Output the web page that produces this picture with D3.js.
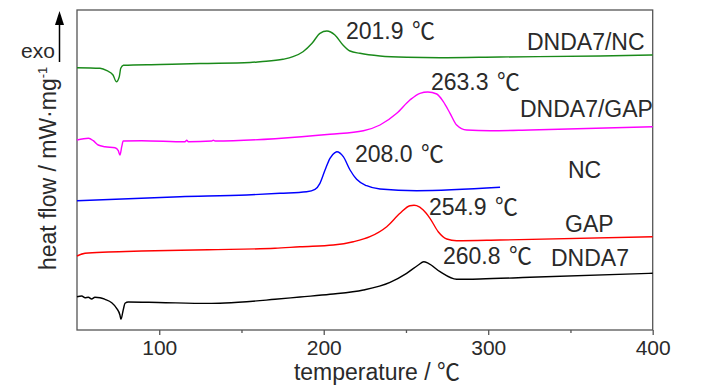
<!DOCTYPE html>
<html>
<head>
<meta charset="utf-8">
<script src="https://cdn.jsdelivr.net/npm/d3@7"></script>
<style>
  body { margin: 0; background: #fff; }
  text { font-family: "Liberation Sans Narrow", "Liberation Sans", Arial, sans-serif; fill: #2a2a2a; }
  .deg { font-family: "Noto Sans CJK SC", "Noto Sans CJK JP", sans-serif; }
</style>
</head>
<body>
<div id="plot"></div>
<script>
// temperature (°C) and heat flow (arbitrary, curves stacked with offsets)
const T_DNDA7_NC = [50, 64, 68.2, 71.9, 73.9, 75.7, 76.6, 78.2, 100.5, 124.8, 155.2, 161.3, 175.2, 181.3, 187.4, 192.9, 197.7, 201.9, 206.8, 211.7, 216, 222, 234.2, 250.6, 270.7, 307.2, 368, 400]
const H_DNDA7_NC = [26.23, 26.17, 25.93, 25.5, 24.83, 25.33, 26.17, 26.47, 26.55, 26.65, 26.75, 26.83, 27.07, 27.33, 27.83, 28.67, 29.67, 29.9, 29.5, 28.5, 27.9, 27.67, 27.4, 27.27, 27.23, 27.3, 27.4, 27.5]

const T_DNDA7_GAP = [50, 57, 59.9, 62.9, 67, 73.1, 75.1, 76.1, 77.2, 78.1, 89.3, 115.7, 116.7, 117.7, 131.9, 132.9, 133.9, 170.4, 203.8, 224.1, 234.2, 244.4, 252.4, 258.5, 263.3, 268.7, 272.7, 276.8, 280.8, 286.9, 301.1, 325.4, 400]
const H_DNDA7_GAP = [19.0, 19.17, 18.93, 18.5, 18.33, 18.23, 17.93, 17.5, 18.33, 18.9, 18.93, 18.83, 18.97, 18.83, 18.9, 18.97, 18.9, 19.13, 19.57, 19.93, 20.5, 21.67, 23.0, 23.67, 23.8, 23.6, 22.83, 21.67, 20.5, 20.0, 19.93, 20.0, 20.33]

const T_NC = [50, 112.6, 153.2, 173.4, 189.6, 194.7, 197.7, 200.8, 203.8, 206.8, 208, 211.9, 216, 220, 226.1, 234.2, 256.5, 307.2]
const H_NC = [12.93, 13.33, 13.5, 13.67, 13.83, 14.07, 14.67, 16.0, 17.17, 17.73, 17.82, 17.33, 16.0, 15.07, 14.43, 14.1, 13.93, 14.27]

const T_GAP = [50, 54.9, 69, 89.3, 129.8, 170.4, 185.6, 205.8, 218, 228.1, 238.3, 246.4, 252.4, 254.9, 256.5, 260.5, 264.6, 269.6, 274.8, 280.8, 307.2, 400]
const H_GAP = [7.4, 7.67, 7.8, 7.9, 8.03, 8.17, 8.33, 8.5, 8.83, 9.33, 10.33, 11.67, 12.43, 12.47, 12.43, 12.0, 11.17, 9.83, 9.1, 8.93, 9.0, 9.33]

const T_DNDA7 = [50, 52.9, 54.9, 56.9, 58.9, 60.9, 64, 67, 71.1, 74.1, 76.1, 76.7, 78.1, 79.2, 81.2, 99.4, 129.8, 140, 170.4, 185.6, 203.8, 224.1, 240.3, 250.4, 257.5, 260.8, 263.6, 270.7, 280.8, 295, 325.4, 400]
const H_DNDA7 = [3.33, 3.4, 3.23, 3.27, 3.1, 3.27, 3.23, 3.07, 2.73, 2.17, 1.5, 1.07, 2.0, 2.67, 2.8, 2.75, 2.66, 2.7, 3.07, 3.3, 3.57, 4.0, 4.77, 5.67, 6.5, 6.83, 6.67, 5.83, 5.07, 5.1, 5.27, 5.67]

const X_TICKS = [100, 200, 300, 400]
const X_MINOR = [150, 250, 350]

const SERIES = [
  {name: "DNDA7/NC", t: T_DNDA7_NC, h: H_DNDA7_NC, color: "#1a8a1a"},
  {name: "DNDA7/GAP", t: T_DNDA7_GAP, h: H_DNDA7_GAP, color: "#ff00ff"},
  {name: "NC", t: T_NC, h: H_NC, color: "#0000ff"},
  {name: "GAP", t: T_GAP, h: H_GAP, color: "#ff0000"},
  {name: "DNDA7", t: T_DNDA7, h: H_DNDA7, color: "#000000"}
]

const PEAK_LABELS = ["201.9", "263.3", "208.0", "254.9", "260.8"]

let width = 727
let height = 390
let mLeft = 77, mRight = 652.7, mTop = 10, mBottom = 330

let svg = d3.select("#plot")
  .append("svg")
    .attr("width", width)
    .attr("height", height)

let x = d3.scaleLinear()
  .domain([50, 400])
  .range([mLeft, mRight])

let y = d3.scaleLinear()
  .domain([0, 32])
  .range([mBottom, mTop])

// frame
svg.append("rect")
  .attr("x", mLeft)
  .attr("y", mTop)
  .attr("width", mRight - mLeft)
  .attr("height", mBottom - mTop)
  .attr("fill", "none")
  .attr("stroke", "#555")
  .attr("stroke-width", 1.3)

// x axis
let xAxis = svg.append("g")
  .attr("transform", "translate(0," + mBottom + ")")
  .call(d3.axisBottom(x).tickValues(X_TICKS).tickSize(5).tickPadding(5))
xAxis.select(".domain").remove()
xAxis.selectAll("line").attr("stroke", "#555").attr("stroke-width", 1.3)
xAxis.selectAll("text")
  .style("font-size", "21px")
  .style("font-family", "'Liberation Sans Narrow', 'Liberation Sans', Arial, sans-serif")
  .attr("fill", "#2a2a2a")

svg.append("g")
  .attr("transform", "translate(0," + mBottom + ")")
  .call(d3.axisBottom(x).tickValues(X_MINOR).tickSize(3).tickFormat(""))
  .call(g => g.select(".domain").remove())
  .selectAll("line").attr("stroke", "#555").attr("stroke-width", 1.3)

// curves
let line = d3.line()
  .x(d => x(d[0]))
  .y(d => y(d[1]))
  .curve(d3.curveMonotoneX)

SERIES.forEach(function(s) {
  svg.append("path")
    .datum(s.t.map((t, i) => [t, s.h[i]]))
    .attr("fill", "none")
    .attr("stroke", s.color)
    .attr("stroke-width", 1.4)
    .attr("d", line)
})

// peak temperature labels
const PEAK_POS = [[346, 39], [431, 90], [355, 162], [429, 215], [443, 264]]
PEAK_LABELS.forEach(function(p, i) {
  let t = svg.append("text")
    .attr("x", PEAK_POS[i][0])
    .attr("y", PEAK_POS[i][1])
    .style("font-size", "23px")
  t.append("tspan").text(p + " ")
  t.append("tspan").attr("class", "deg").attr("dx", 2).style("font-size", "23px").text("℃")
})

// series names
const NAME_POS = [[527, 50], [520, 117], [568, 178], [565, 232], [551, 266]]
SERIES.forEach(function(s, i) {
  svg.append("text")
    .attr("x", NAME_POS[i][0])
    .attr("y", NAME_POS[i][1])
    .style("font-size", "23px")
    .text(s.name)
})

let xl = svg.append("text")
  .attr("x", 377)
  .attr("y", 380)
  .style("text-anchor", "middle")
  .style("font-size", "23px")
xl.append("tspan").text("temperature / ")
xl.append("tspan").attr("class", "deg").style("font-size", "23px").text("℃")

let yl = svg.append("text")
  .attr("transform", "translate(56,270) rotate(-90)")
  .style("font-size", "23px")
yl.append("tspan").text("heat flow / mW·mg")
yl.append("tspan").attr("dy", -9).style("font-size", "13px").text("-1")

// exo arrow
svg.append("text")
  .attr("x", 21)
  .attr("y", 58)
  .style("font-size", "21px")
  .text("exo")
svg.append("line")
  .attr("x1", 59.5).attr("y1", 62)
  .attr("x2", 59.5).attr("y2", 22)
  .attr("stroke", "#000")
  .attr("stroke-width", 1.5)
svg.append("path")
  .attr("d", "M59.5,11 L64,25 L55,25 Z")
  .attr("fill", "#000")
</script>
</body>
</html>
